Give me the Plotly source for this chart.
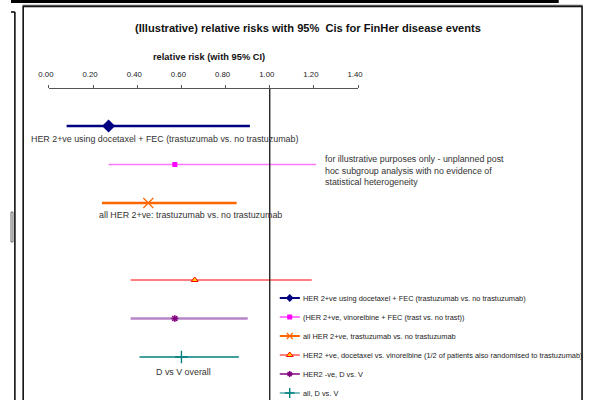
import plotly.graph_objects as go

# ---- data ----
series_names = [
    "HER 2+ve using docetaxel + FEC (trastuzumab vs. no trastuzumab)",
    "(HER 2+ve, vinorelbine + FEC (trast vs. no trast))",
    "all HER 2+ve, trastuzumab vs. no trastuzumab",
    "HER2 +ve, docetaxel vs. vinorelbine (1/2 of patients also randomised to trastuzumab)",
    "HER2 -ve, D vs. V",
    "all, D vs. V",
]
row_pos = [1, 2, 3, 5, 6, 7]
rel_risk = [0.27, 0.57, 0.45, 0.66, 0.57, 0.60]
ci_low = [0.08, 0.27, 0.24, 0.37, 0.37, 0.41]
ci_high = [0.91, 1.21, 0.85, 1.19, 0.90, 0.86]
tick_vals = [0.0, 0.2, 0.4, 0.6, 0.8, 1.0, 1.2, 1.4]
tick_text = ["0.00", "0.20", "0.40", "0.60", "0.80", "1.00", "1.20", "1.40"]

# ---- styles ----
W, H = 589, 400
FONT = "Arial, Liberation Sans, sans-serif"
styles = [
    dict(ci="#000080", ciw=2.6, sym="diamond", mc="#000080", ml="#000080", ms=10, mlw=0, lg_ms=6),
    dict(ci="#FF77FF", ciw=1.6, sym="square", mc="#FF00FF", ml="#FF00FF", ms=5, mlw=0, lg_ms=5),
    dict(ci="#FF6600", ciw=2.6, sym="x-thin-open", mc="#FF6600", ml="#FF6600", ms=10, mlw=1.2, lg_ms=6),
    dict(ci="#FF0000", ciw=1.0, sym="triangle-up", mc="#FFCC00", ml="#FF0000", ms=6, mlw=1, lg_ms=6),
    dict(ci="#B784C7", ciw=2.6, sym="asterisk-open", mc="#800080", ml="#800080", ms=6, mlw=1.4, lg_ms=5),
    dict(ci="#008080", ciw=1.6, sym="cross-thin-open", mc="#008080", ml="#008080", ms=9, mlw=1.4, lg_ms=7),
]
legend_line = ["#000080", "#FF77FF", "#FF6600", "#FF0000", "#800080", "#008080"]
legend_lw = [2.2, 1.8, 2.2, 1.0, 1.4, 1.2]

def px_x(p):
    return p / W

def px_y(p):
    return 1 - p / H

fig = go.Figure()

for i in range(len(series_names)):
    s = styles[i]
    fig.add_trace(go.Scatter(
        x=[rel_risk[i]], y=[row_pos[i]], mode="markers",
        name=series_names[i], showlegend=False,
        marker=dict(symbol=s["sym"], size=s["ms"], color=s["mc"],
                    line=dict(color=s["ml"], width=s["mlw"])),
        error_x=dict(type="data", symmetric=False,
                     array=[ci_high[i] - rel_risk[i]],
                     arrayminus=[rel_risk[i] - ci_low[i]],
                     width=0, thickness=s["ciw"], color=s["ci"]),
        xaxis="x", yaxis="y",
    ))

# manual legend glyphs on a secondary axis pair
for i in range(len(series_names)):
    s = styles[i]
    fig.add_trace(go.Scatter(
        x=[0, 0.5, 1], y=[i, i, i], mode="lines+markers", showlegend=False,
        line=dict(color=legend_line[i], width=legend_lw[i]),
        marker=dict(symbol=s["sym"], size=s["lg_ms"], color=s["mc"], opacity=[0, 1, 0],
                    line=dict(color=s["ml"], width=s["mlw"])),
        xaxis="x2", yaxis="y2", hoverinfo="skip",
    ))

y_top_px = 89
row_px0, row_step = 126, 38.5
y_lo = 1 + (y_top_px - row_px0) / row_step
y_hi = 1 + (H - row_px0) / row_step

fig.update_layout(
    width=W, height=H, autosize=False,
    margin=dict(l=0, r=0, t=0, b=0),
    paper_bgcolor="white", plot_bgcolor="rgba(0,0,0,0)",
    font=dict(family=FONT, color="#222"),
    showlegend=False,
    xaxis=dict(domain=[px_x(39), px_x(39 + 227 * 1.4)], range=[0, 1.4],
               side="top", anchor="y", showline=True, linecolor="#555", linewidth=1,
               ticks="outside", ticklen=3, tickcolor="#555", tickvals=tick_vals,
               ticktext=tick_text, tickfont=dict(size=7.8, color="#222"),
               showgrid=False, zeroline=False, ticklabelshift=-3, ticklabelstandoff=5),
    yaxis=dict(domain=[0, 1 - y_top_px / H], range=[y_hi, y_lo], visible=False,
               showgrid=False, zeroline=False),
    xaxis2=dict(domain=[px_x(276), px_x(297)], range=[0, 1], visible=False, anchor="y2"),
    yaxis2=dict(domain=[0, 1 - 288.5 / H], range=[(H - 298) / 19, -0.5], visible=False,
                anchor="x2"),
)

shapes = []
# reference line at relative risk 1.00
shapes.append(dict(type="line", xref="x", yref="paper", x0=1, x1=1, y0=0,
                   y1=1 - y_top_px / H, line=dict(color="black", width=1.2)))
# chart box
shapes.append(dict(type="rect", xref="paper", yref="paper", x0=px_x(12.5), x1=px_x(587),
                   y0=px_y(412), y1=px_y(6.5), line=dict(color="black", width=1.5)))
shapes.append(dict(type="line", xref="paper", yref="paper", x0=px_x(12), x1=px_x(587.5),
                   y0=px_y(5.5), y1=px_y(5.5), line=dict(color="#555", width=1.5)))
# slide title underline
shapes.append(dict(type="line", xref="paper", yref="paper", x0=0, x1=px_x(563),
                   y0=px_y(1.5), y1=px_y(1.5), line=dict(color="black", width=3)))
# neighbouring frame on the left
shapes.append(dict(type="line", xref="paper", yref="paper", x0=px_x(4), x1=px_x(4),
                   y0=px_y(405), y1=px_y(12), line=dict(color="black", width=1.5)))
shapes.append(dict(type="line", xref="paper", yref="paper", x0=0, x1=px_x(4),
                   y0=px_y(12), y1=px_y(12), line=dict(color="black", width=1.5)))
shapes.append(dict(type="rect", xref="paper", yref="paper", x0=0, x1=px_x(2),
                   y0=px_y(242), y1=px_y(212), line=dict(color="#666", width=1)))
fig.update_layout(shapes=shapes)

ann = []
ann.append(dict(text="<b>(Illustrative) relative risks with 95%  Cis for FinHer disease events</b>",
                xref="paper", yref="paper", x=px_x(305), y=px_y(28), showarrow=False,
                xanchor="center", yanchor="middle", font=dict(size=11.1, color="#111")))
ann.append(dict(text="<b>relative risk (with 95% CI)</b>", xref="paper", yref="paper",
                x=px_x(204), y=px_y(57), showarrow=False, xanchor="center",
                yanchor="middle", font=dict(size=9.3, color="#111")))
LBL = 8.9
ann.append(dict(text="HER 2+ve using docetaxel + FEC (trastuzumab vs. no trastuzumab)",
                xref="paper", yref="paper", x=px_x(158), y=px_y(139), showarrow=False,
                xanchor="center", yanchor="middle", font=dict(size=LBL, color="#333")))
ann.append(dict(text="all HER 2+ve: trastuzumab vs. no trastuzumab",
                xref="paper", yref="paper", x=px_x(184.5), y=px_y(215), showarrow=False,
                xanchor="center", yanchor="middle", font=dict(size=LBL, color="#333")))
ann.append(dict(text="D vs V overall",
                xref="paper", yref="paper", x=px_x(177.5), y=px_y(372), showarrow=False,
                xanchor="center", yanchor="middle", font=dict(size=LBL, color="#333")))
ann.append(dict(text="for illustrative purposes only - unplanned post<br>hoc subgroup analysis with no evidence of<br>statistical heterogeneity",
                xref="paper", yref="paper", x=px_x(321), y=px_y(170), showarrow=False,
                xanchor="left", yanchor="middle", align="left",
                font=dict(size=8.9, color="#333")))
for i, name in enumerate(series_names):
    ann.append(dict(text=name, xref="paper", yref="y2", x=px_x(298), y=i,
                    showarrow=False, xanchor="left", yanchor="middle",
                    font=dict(size=7.4, color="#222")))
fig.update_layout(annotations=ann)

fig.write_html("out.html", config={"displayModeBar": False},
               post_script="document.body.style.margin='0';document.body.style.overflow='hidden';")
